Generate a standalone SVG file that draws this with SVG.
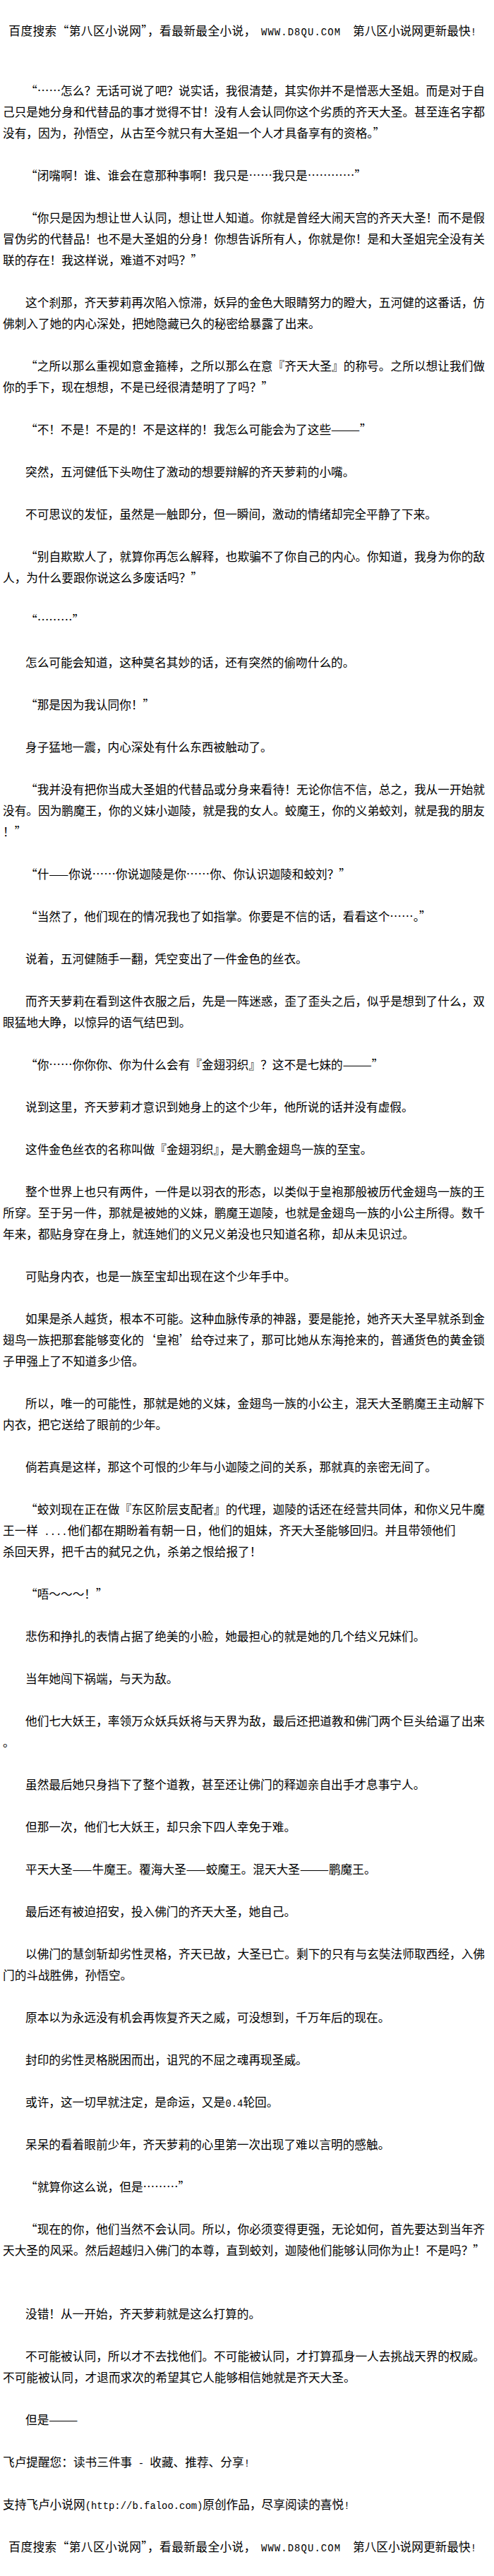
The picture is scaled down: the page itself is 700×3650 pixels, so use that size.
<svg xmlns="http://www.w3.org/2000/svg" width="700" height="3650" viewBox="0 0 700 3650">
<style>
.t{font-family:"Noto Sans CJK SC","Liberation Sans",sans-serif;font-size:16.67px;fill:#000}
.m{font-family:"Liberation Mono",monospace;font-size:13.9px;fill:#000}
</style>
<rect width="700" height="3650" fill="#fff"/>
<g id="header">
<text class="t" x="12.3" y="49.5" textLength="350" lengthAdjust="spacing">百度搜索“第八区小说网”，看最新最全小说，</text>
<text class="m" x="370" y="49.5" textLength="112" lengthAdjust="spacing">WWW.D8QU.COM</text>
<text class="t" x="500" y="49.5">第八区小说网更新最快</text>
<text class="m" x="666.7" y="49.5">!</text>
</g>
<g id="p1">
<text class="t" x="36" y="134.5">“</text><text class="t" x="52.7" y="134.5" textLength="634.3" lengthAdjust="spacing">……怎么？无话可说了吧？说实话，我很清楚，其实你并不是憎恶大圣姐。而是对于自</text>
<text class="t" x="4" y="164.5" textLength="683" lengthAdjust="spacing">己只是她分身和代替品的事才觉得不甘！没有人会认同你这个劣质的齐天大圣。甚至连名字都</text>
<text class="t" x="4" y="194.5">没有，因为，孙悟空，从古至今就只有大圣姐一个人才具备享有的资格。”</text>
</g>
<g id="p2">
<text class="t" x="36" y="254.5">“</text><text class="t" x="52.7" y="254.5">闭嘴啊！谁、谁会在意那种事啊！我只是……我只是…………”</text>
</g>
<g id="p3">
<text class="t" x="36" y="314.5">“</text><text class="t" x="52.7" y="314.5" textLength="634.3" lengthAdjust="spacing">你只是因为想让世人认同，想让世人知道。你就是曾经大闹天宫的齐天大圣！而不是假</text>
<text class="t" x="4" y="344.5" textLength="683" lengthAdjust="spacing">冒伪劣的代替品！也不是大圣姐的分身！你想告诉所有人，你就是你！是和大圣姐完全没有关</text>
<text class="t" x="4" y="374.5">联的存在！我这样说，难道不对吗？”</text>
</g>
<g id="p4">
<text class="t" x="36" y="434.5" textLength="651" lengthAdjust="spacing">这个刹那，齐天萝莉再次陷入惊滞，妖异的金色大眼睛努力的瞪大，五河健的这番话，仿</text>
<text class="t" x="4" y="464.5">佛刺入了她的内心深处，把她隐藏已久的秘密给暴露了出来。</text>
</g>
<g id="p5">
<text class="t" x="36" y="524.5">“</text><text class="t" x="52.7" y="524.5" textLength="634.3" lengthAdjust="spacing">之所以那么重视如意金箍棒，之所以那么在意『齐天大圣』的称号。之所以想让我们做</text>
<text class="t" x="4" y="554.5">你的手下，现在想想，不是已经很清楚明了了吗？”</text>
</g>
<g id="p6">
<text class="t" x="36" y="614.5">“</text><text class="t" x="52.7" y="614.5">不！不是！不是的！不是这样的！我怎么可能会为了这些———”</text>
</g>
<g id="p7"><text class="t" x="36" y="674.5">突然，五河健低下头吻住了激动的想要辩解的齐天萝莉的小嘴。</text></g>
<g id="p8"><text class="t" x="36" y="734.5">不可思议的发怔，虽然是一触即分，但一瞬间，激动的情绪却完全平静了下来。</text></g>
<g id="p9">
<text class="t" x="36" y="794.5">“</text><text class="t" x="52.7" y="794.5" textLength="634.3" lengthAdjust="spacing">别自欺欺人了，就算你再怎么解释，也欺骗不了你自己的内心。你知道，我身为你的敌</text>
<text class="t" x="4" y="824.5">人，为什么要跟你说这么多废话吗？”</text>
</g>
<g id="p10"><text class="t" x="36" y="884.5">“</text><text class="t" x="52.7" y="884.5">………”</text></g>
<g id="p11"><text class="t" x="36" y="944.5">怎么可能会知道，这种莫名其妙的话，还有突然的偷吻什么的。</text></g>
<g id="p12"><text class="t" x="36" y="1004.5">“</text><text class="t" x="52.7" y="1004.5">那是因为我认同你！”</text></g>
<g id="p13"><text class="t" x="36" y="1064.5">身子猛地一震，内心深处有什么东西被触动了。</text></g>
<g id="p14">
<text class="t" x="36" y="1124.5">“</text><text class="t" x="52.7" y="1124.5" textLength="634.3" lengthAdjust="spacing">我并没有把你当成大圣姐的代替品或分身来看待！无论你信不信，总之，我从一开始就</text>
<text class="t" x="4" y="1154.5" textLength="683" lengthAdjust="spacing">没有。因为鹏魔王，你的义妹小迦陵，就是我的女人。蛟魔王，你的义弟蛟刘，就是我的朋友</text>
<text class="t" x="4" y="1184.5">！”</text>
</g>
<g id="p15"><text class="t" x="36" y="1244.5">“</text><text class="t" x="52.7" y="1244.5">什——你说……你说迦陵是你……你、你认识迦陵和蛟刘？”</text></g>
<g id="p16"><text class="t" x="36" y="1304.5">“</text><text class="t" x="52.7" y="1304.5">当然了，他们现在的情况我也了如指掌。你要是不信的话，看看这个……。”</text></g>
<g id="p17"><text class="t" x="36" y="1364.5">说着，五河健随手一翻，凭空变出了一件金色的丝衣。</text></g>
<g id="p18">
<text class="t" x="36" y="1424.5" textLength="651" lengthAdjust="spacing">而齐天萝莉在看到这件衣服之后，先是一阵迷惑，歪了歪头之后，似乎是想到了什么，双</text>
<text class="t" x="4" y="1454.5">眼猛地大睁，以惊异的语气结巴到。</text>
</g>
<g id="p19"><text class="t" x="36" y="1514.5">“</text><text class="t" x="52.7" y="1514.5">你……你你你、你为什么会有『金翅羽织』？这不是七妹的———”</text></g>
<g id="p20"><text class="t" x="36" y="1574.5">说到这里，齐天萝莉才意识到她身上的这个少年，他所说的话并没有虚假。</text></g>
<g id="p21"><text class="t" x="36" y="1634.5">这件金色丝衣的名称叫做『金翅羽织』，是大鹏金翅鸟一族的至宝。</text></g>
<g id="p22">
<text class="t" x="36" y="1694.5" textLength="651" lengthAdjust="spacing">整个世界上也只有两件，一件是以羽衣的形态，以类似于皇袍那般被历代金翅鸟一族的王</text>
<text class="t" x="4" y="1724.5" textLength="683" lengthAdjust="spacing">所穿。至于另一件，那就是被她的义妹，鹏魔王迦陵，也就是金翅鸟一族的小公主所得。数千</text>
<text class="t" x="4" y="1754.5">年来，都贴身穿在身上，就连她们的义兄义弟没也只知道名称，却从未见识过。</text>
</g>
<g id="p23"><text class="t" x="36" y="1814.5">可贴身内衣，也是一族至宝却出现在这个少年手中。</text></g>
<g id="p24">
<text class="t" x="36" y="1874.5" textLength="651" lengthAdjust="spacing">如果是杀人越货，根本不可能。这种血脉传承的神器，要是能抢，她齐天大圣早就杀到金</text>
<text class="t" x="4" y="1904.5" textLength="683" lengthAdjust="spacing">翅鸟一族把那套能够变化的‘皇袍’给夺过来了，那可比她从东海抢来的，普通货色的黄金锁</text>
<text class="t" x="4" y="1934.5">子甲强上了不知道多少倍。</text>
</g>
<g id="p25">
<text class="t" x="36" y="1994.5" textLength="651" lengthAdjust="spacing">所以，唯一的可能性，那就是她的义妹，金翅鸟一族的小公主，混天大圣鹏魔王主动解下</text>
<text class="t" x="4" y="2024.5">内衣，把它送给了眼前的少年。</text>
</g>
<g id="p26"><text class="t" x="36" y="2084.5">倘若真是这样，那这个可恨的少年与小迦陵之间的关系，那就真的亲密无间了。</text></g>
<g id="p27">
<text class="t" x="36" y="2144.5">“</text><text class="t" x="52.7" y="2144.5" textLength="634.3" lengthAdjust="spacing">蛟刘现在正在做『东区阶层支配者』的代理，迦陵的话还在经营共同体，和你义兄牛魔</text>
<text class="t" x="4" y="2174.5">王一样</text><text class="m" x="62.3" y="2174.5">....</text><text class="t" x="95.7" y="2174.5">他们都在期盼着有朝一日，他们的姐妹，齐天大圣能够回归。并且带领他们</text>
<text class="t" x="4" y="2204.5">杀回天界，把千古的弑兄之仇，杀弟之恨给报了！</text>
</g>
<g id="p28"><text class="t" x="36" y="2264.5">“</text><text class="t" x="52.7" y="2264.5">唔～～～！”</text></g>
<g id="p29"><text class="t" x="36" y="2324.5">悲伤和挣扎的表情占据了绝美的小脸，她最担心的就是她的几个结义兄妹们。</text></g>
<g id="p30"><text class="t" x="36" y="2384.5">当年她闯下祸端，与天为敌。</text></g>
<g id="p31">
<text class="t" x="36" y="2444.5" textLength="651" lengthAdjust="spacing">他们七大妖王，率领万众妖兵妖将与天界为敌，最后还把道教和佛门两个巨头给逼了出来</text>
<text class="t" x="4" y="2474.5">。</text>
</g>
<g id="p32"><text class="t" x="36" y="2534.5">虽然最后她只身挡下了整个道教，甚至还让佛门的释迦亲自出手才息事宁人。</text></g>
<g id="p33"><text class="t" x="36" y="2594.5">但那一次，他们七大妖王，却只余下四人幸免于难。</text></g>
<g id="p34"><text class="t" x="36" y="2654.5">平天大圣——牛魔王。覆海大圣——蛟魔王。混天大圣———鹏魔王。</text></g>
<g id="p35"><text class="t" x="36" y="2714.5">最后还有被迫招安，投入佛门的齐天大圣，她自己。</text></g>
<g id="p36">
<text class="t" x="36" y="2774.5" textLength="651" lengthAdjust="spacing">以佛门的慧剑斩却劣性灵格，齐天已故，大圣已亡。剩下的只有与玄奘法师取西经，入佛</text>
<text class="t" x="4" y="2804.5">门的斗战胜佛，孙悟空。</text>
</g>
<g id="p37"><text class="t" x="36" y="2864.5">原本以为永远没有机会再恢复齐天之威，可没想到，千万年后的现在。</text></g>
<g id="p38"><text class="t" x="36" y="2924.5">封印的劣性灵格脱困而出，诅咒的不屈之魂再现圣威。</text></g>
<g id="p39"><text class="t" x="36" y="2984.5">或许，这一切早就注定，是命运，又是</text><text class="m" x="319.4" y="2984.5">0.4</text><text class="t" x="344.4" y="2984.5">轮回。</text></g>
<g id="p40"><text class="t" x="36" y="3044.5">呆呆的看着眼前少年，齐天萝莉的心里第一次出现了难以言明的感触。</text></g>
<g id="p41"><text class="t" x="36" y="3104.5">“</text><text class="t" x="52.7" y="3104.5">就算你这么说，但是………”</text></g>
<g id="p42">
<text class="t" x="36" y="3164.5">“</text><text class="t" x="52.7" y="3164.5" textLength="634.3" lengthAdjust="spacing">现在的你，他们当然不会认同。所以，你必须变得更强，无论如何，首先要达到当年齐</text>
<text class="t" x="4" y="3194.5" textLength="683" lengthAdjust="spacing">天大圣的风采。然后超越归入佛门的本尊，直到蛟刘，迦陵他们能够认同你为止！不是吗？”</text>
</g>
<g id="p43"><text class="t" x="36" y="3284.5">没错！从一开始，齐天萝莉就是这么打算的。</text></g>
<g id="p44">
<text class="t" x="36" y="3344.5" textLength="651" lengthAdjust="spacing">不可能被认同，所以才不去找他们。不可能被认同，才打算孤身一人去挑战天界的权威。</text>
<text class="t" x="4" y="3374.5">不可能被认同，才退而求次的希望其它人能够相信她就是齐天大圣。</text>
</g>
<g id="p45"><text class="t" x="36" y="3434.5">但是———</text></g>
<g id="notice1"><text class="t" x="4" y="3494.5">飞卢提醒您：读书三件事</text><text class="m" x="195.7" y="3494.5">-</text><text class="t" x="212.3" y="3494.5">收藏、推荐、分享</text><text class="m" x="345.7" y="3494.5">!</text></g>
<g id="notice2"><text class="t" x="4" y="3554.5">支持飞卢小说网</text><text class="m" x="120.7" y="3554.5" textLength="166.7" lengthAdjust="spacing">(http://b.faloo.com)</text><text class="t" x="287.3" y="3554.5">原创作品，尽享阅读的喜悦</text><text class="m" x="487.3" y="3554.5">!</text></g>
<g id="footer">
<text class="t" x="12.3" y="3614.5" textLength="350" lengthAdjust="spacing">百度搜索“第八区小说网”，看最新最全小说，</text>
<text class="m" x="370" y="3614.5" textLength="112" lengthAdjust="spacing">WWW.D8QU.COM</text>
<text class="t" x="500" y="3614.5">第八区小说网更新最快</text>
<text class="m" x="666.7" y="3614.5">!</text>
</g>
</svg>
